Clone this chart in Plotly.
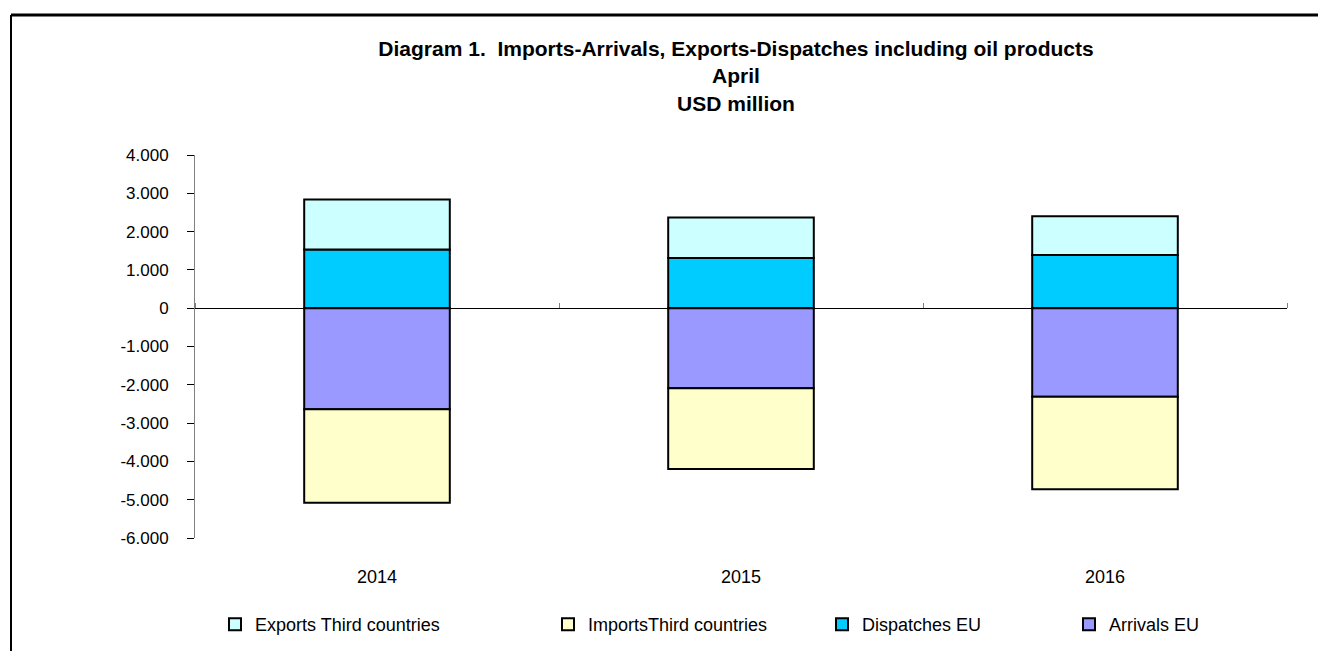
import plotly.graph_objects as go

years = ["2014", "2015", "2016"]
exports_third = [1310, 1060, 1010]
imports_third = [-2440, -2110, -2420]
dispatches_eu = [1530, 1310, 1390]
arrivals_eu = [-2640, -2090, -2310]

ytick_vals = [4000, 3000, 2000, 1000, 0, -1000, -2000, -3000, -4000, -5000, -6000]
ytick_text = ["4.000", "3.000", "2.000", "1.000", "0", "-1.000", "-2.000", "-3.000",
              "-4.000", "-5.000", "-6.000"]

FONT = "Arial, Liberation Sans, sans-serif"
W, H = 1326, 651
# plot area in figure pixels
PL, PR, PT, PB = 187, 1279, 147, 530

fig = go.Figure()
line = dict(color="black", width=2)
fig.add_trace(go.Bar(x=years, y=dispatches_eu, name="Dispatches EU", legend="legend3",
                     marker=dict(color="#00CCFF", line=line)))
fig.add_trace(go.Bar(x=years, y=arrivals_eu, name="Arrivals EU", legend="legend4",
                     marker=dict(color="#9999FF", line=line)))
fig.add_trace(go.Bar(x=years, y=exports_third, name="Exports Third countries", legend="legend",
                     marker=dict(color="#CCFFFF", line=line)))
fig.add_trace(go.Bar(x=years, y=imports_third, name="ImportsThird countries", legend="legend2",
                     marker=dict(color="#FFFFCC", line=line)))


def leg(xpix):
    return dict(orientation="h", xref="container", yref="container",
                x=xpix / W, xanchor="left", y=1 - 598 / H, yanchor="top",
                font=dict(family=FONT, size=18, color="black"), itemwidth=30,
                itemclick=False, bgcolor="rgba(0,0,0,0)")


fig.update_layout(
    width=W, height=H,
    margin=dict(l=PL, r=W - PR, t=PT, b=H - PB, autoexpand=False),
    paper_bgcolor="white", plot_bgcolor="white",
    barmode="relative", bargap=0.6,
    font=dict(family=FONT, size=16, color="black"),
    title=dict(
        text="<b>Diagram 1.  Imports-Arrivals, Exports-Dispatches including oil products</b><br><b>April</b><br><b>USD million</b>",
        font=dict(family=FONT, size=21, color="black"),
        x=728 / W, xanchor="center", y=1 - 48 / H, yanchor="top",
    ),
    xaxis=dict(type="category", categoryorder="array", categoryarray=years,
               showline=False, ticks="", showgrid=False, zeroline=False,
               ticklabelstandoff=26, tickfont=dict(size=18)),
    xaxis2=dict(type="category", matches="x", overlaying="x", anchor="free",
                position=0.6, side="top", showticklabels=False, showline=False,
                showgrid=False, ticks="outside", ticklen=5, tickcolor="#808080",
                tickson="boundaries", tickwidth=1),
    yaxis=dict(range=[-6000, 4000], tickvals=ytick_vals, ticktext=ytick_text,
               showline=True, linecolor="#808080", linewidth=1,
               ticks="outside", ticklen=7, tickcolor="black",
               showgrid=False, zeroline=True, zerolinecolor="black", zerolinewidth=1,
               ticklabelstandoff=15, tickfont=dict(size=17)),
    legend=leg(207),
    legend2=leg(540),
    legend3=leg(814),
    legend4=leg(1061),
    showlegend=True,
)

# invisible trace to activate xaxis2 for tick marks along the zero line
fig.add_trace(go.Scatter(x=years, y=[0, 0, 0], xaxis="x2", mode="markers",
                         marker=dict(opacity=0), showlegend=False, hoverinfo="skip"))

# chart frame (top and left edges)
fx = (3 - PL) / (PR - PL)
fy = (PB - 7) / (PB - PT)
fig.add_shape(type="line", xref="paper", yref="paper",
              x0=fx, x1=1.2, y0=fy, y1=fy, line=dict(color="black", width=3))
fig.add_shape(type="line", xref="paper", yref="paper",
              x0=fx, x1=fx, y0=-0.4, y1=fy, line=dict(color="black", width=2))

fig.write_html("out.html")
